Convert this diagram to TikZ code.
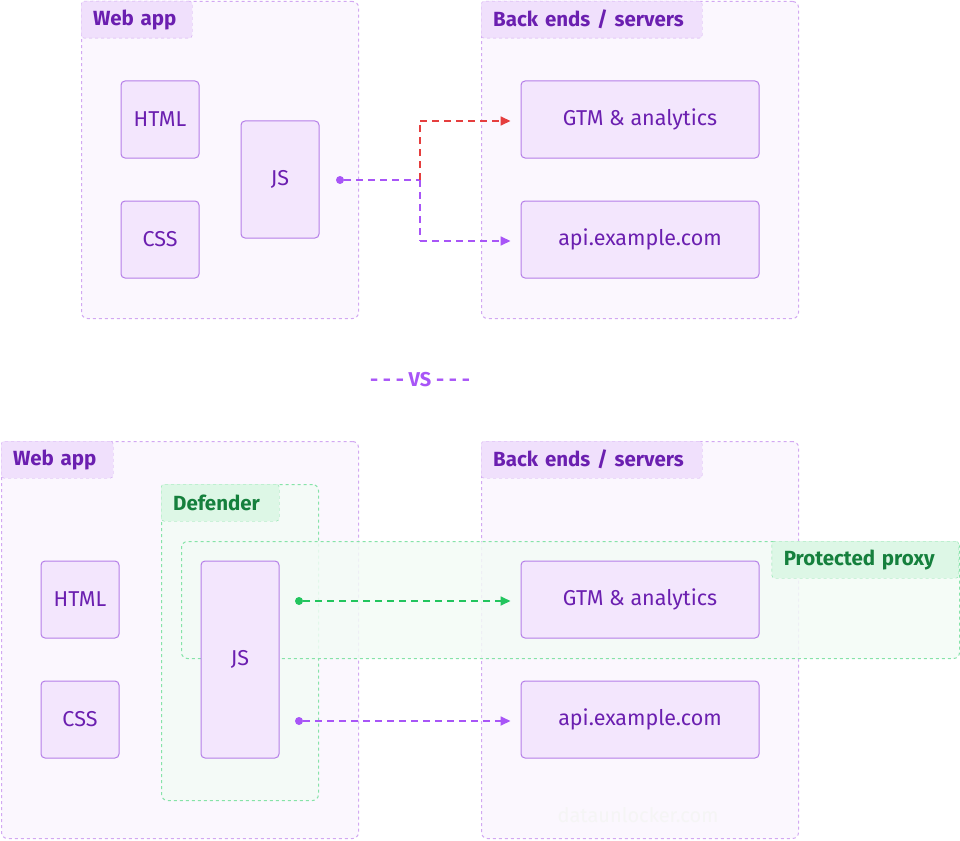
\documentclass[tikz,border=0pt]{standalone}
\usepackage{fontspec}
\setmainfont{Fira Sans}
\usetikzlibrary{arrows.meta}
\definecolor{pline}{HTML}{D2A8F2}
\definecolor{pfill}{HTML}{FBF7FE}
\definecolor{pbox}{HTML}{F3E6FD}
\definecolor{pedge}{HTML}{B57EE8}
\definecolor{ptext}{HTML}{6B1FB0}
\definecolor{ptag}{HTML}{F0E0FC}
\definecolor{garrow}{HTML}{22C55E}
\definecolor{gline}{HTML}{86E3A8}
\definecolor{gfill}{HTML}{F3FBF6}
\definecolor{gtag}{HTML}{DDF7E6}
\definecolor{gtext}{HTML}{15803D}
\definecolor{rarrow}{HTML}{E53E3E}
\definecolor{parrow}{HTML}{A855F7}
\begin{document}
\begin{tikzpicture}[
        x = 1pt, y = -1pt, % pixel grid
        group/.style = {draw = pline, dashed, fill = pfill, rounded corners = 6pt, line width = 1pt, anchor = north west, inner sep = 0pt},
        ggroup/.style = {group, draw = gline, fill = gfill, fill opacity = 0.85},
        tag/.style = {draw = pline, dashed, fill = ptag, rounded corners = 3pt, anchor = north west, text = ptext, font = \fontsize{20.5}{20}\selectfont\bfseries, minimum height = 37pt, inner xsep = 12pt, text width = #1, align = left},
        tag/.default = {},
        gtagst/.style = {tag = {#1}, draw = gline, fill = gtag, text = gtext},
        gtagst/.default = {},
        box/.style = {draw = pedge, fill = pbox, rounded corners = 4pt, line width = 1pt, text = ptext, font = \fontsize{21.5}{20}\selectfont, inner sep = 0pt},
        flow/.style = {line width = 1.7pt, dash pattern = on 7pt off 5pt, -{Triangle[length = 10pt, width = 9pt]}},
        dot/.style = {circle, fill = parrow, inner sep = 0pt, minimum size = 8pt}
    ]
    \useasboundingbox (0,0) rectangle (960,840);

    % top: plain setup
    \node[group, minimum width = 277pt, minimum height = 317pt] (web1) at (81,1) {};
    \node[tag = 87pt] (webtag1) at (81,1) {Web app};
    \node[group, minimum width = 317pt, minimum height = 317pt] (back1) at (481,1) {};
    \node[tag = 197pt] (backtag1) at (481,1) {Back ends / servers};
    \node[box, minimum width = 78pt, minimum height = 77pt] (html1) at (160,119.5) {HTML};
    \node[box, minimum width = 78pt, minimum height = 77pt] (css1) at (160,239.5) {CSS};
    \node[box, minimum width = 78pt, minimum height = 117pt] (js1) at (280,179.5) {JS};
    \node[box, minimum width = 238pt, minimum height = 77pt] (gtm1) at (640,119.5) {GTM \& analytics};
    \node[box, minimum width = 238pt, minimum height = 77pt] (api1) at (640,239.5) {api.example.com};
    \node[dot] (src1) at (340,180) {};
    \coordinate (split) at (420,180);
    \coordinate (upturn) at (420,121);
    \coordinate (downturn) at (420,241);
    \draw[flow, color = parrow, -] (src1) -- (split);
    \draw[flow, color = rarrow, -] (split) -- (upturn);
    \draw[flow, color = rarrow] (upturn) -- ([xshift = -10pt]gtm1.west |- upturn);
    \draw[flow, color = parrow, -] (split) -- (downturn);
    \draw[flow, color = parrow] (downturn) -- ([xshift = -10pt]api1.west |- downturn);

    \node[text = parrow, font = \fontsize{20}{20}\selectfont\bfseries] (vs) at (420,380) {- - - VS - - -};

    % bottom: with defender
    \node[group, minimum width = 357pt, minimum height = 397pt] (web2) at (1,441) {};
    \node[tag = 88pt] (webtag2) at (1,441) {Web app};
    \node[group, minimum width = 317pt, minimum height = 397pt] (back2) at (481,441) {};
    \node[tag = 197pt] (backtag2) at (481,441) {Back ends / servers};
    \node[ggroup, minimum width = 157pt, minimum height = 316pt] (def) at (161,484) {};
    \node[gtagst = 94pt] (deftag) at (161,484) {Defender};
    \node[ggroup, minimum width = 778pt, minimum height = 117pt] (proxy) at (181,541) {};
    \node[gtagst = 163pt, anchor = north east] (proxytag) at (959,541) {Protected proxy};
    \node[box, minimum width = 78pt, minimum height = 77pt] (html2) at (80,599.5) {HTML};
    \node[box, minimum width = 78pt, minimum height = 77pt] (css2) at (80,719.5) {CSS};
    \node[box, minimum width = 78pt, minimum height = 197pt] (js2) at (240,659.5) {JS};
    \node[box, minimum width = 238pt, minimum height = 77pt] (gtm2) at (640,599.5) {GTM \& analytics};
    \node[box, minimum width = 238pt, minimum height = 77pt] (api2) at (640,719.5) {api.example.com};
    \node[dot, fill = garrow] (src2) at (299,601) {};
    \node[dot] (src3) at (299,721) {};
    \draw[flow, color = garrow] (src2) -- ([xshift = -10pt]gtm2.west |- src2);
    \draw[flow, color = parrow] (src3) -- ([xshift = -10pt]api2.west |- src3);

    \node[text = black!4, font = \fontsize{20}{20}\selectfont] (mark) at (638,815) {dataunlocker.com};
\end{tikzpicture}
\end{document}
